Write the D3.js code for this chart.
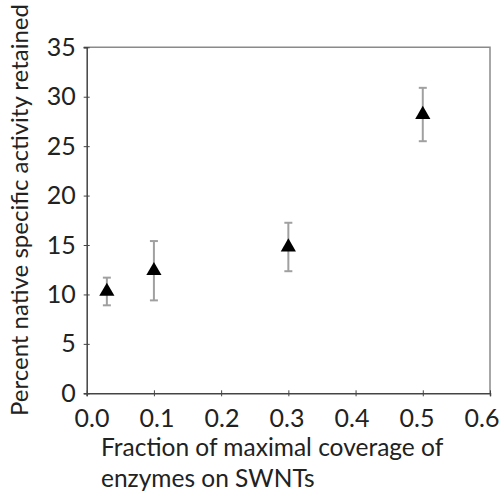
<!DOCTYPE html>
<html>
<head>
<meta charset="utf-8">
<script src="https://cdn.jsdelivr.net/npm/d3@7"></script>
<style>
  body {margin: 0; background: #fff;}
  text {font-family: Lato, sans-serif; fill: #222;}
</style>
</head>
<body>
<script>
// data
const coverage = [0.03, 0.1, 0.3, 0.5]
const activity = [10.3, 12.4, 14.8, 28.2]
const errors = [1.4, 3.0, 2.45, 2.7]
const xTicks = [0, 0.1, 0.2, 0.3, 0.4, 0.5, 0.6]
const yTicks = [0, 5, 10, 15, 20, 25, 30, 35]

const points = coverage.map((c, i) => ({x: c, y: activity[i], e: errors[i]}))

const svg = d3.select('body').append('svg')
  .attr('width', 500).attr('height', 496)

const plotLeft = 86.7, plotRight = 490, plotTop = 47.3, plotBottom = 393.3

const x = d3.scaleLinear().domain([0, 0.6]).range([plotLeft, plotRight])
const y = d3.scaleLinear().domain([0, 35]).range([plotBottom, plotTop])
// the x labels sit on a slightly narrower span than the ticks
const xLabel = d3.scaleLinear().domain([0, 0.6]).range([91.5, 481.5])

// frame on top and right
svg.append('path')
  .attr('d', `M${plotLeft - 3},${plotTop}H${plotRight}V${plotBottom}`)
  .attr('fill', 'none').attr('stroke', '#8a8a8a').attr('stroke-width', 1.5)

// y axis
const ya = svg.append('g').attr('transform', `translate(${plotLeft},0)`)
  .call(d3.axisLeft(y).tickValues(yTicks).tickSize(3).tickPadding(8))
ya.select('.domain').attr('stroke', '#444').attr('stroke-width', 1.5)
ya.selectAll('.tick line').attr('stroke', '#444').attr('x2', 3).attr('x1', -3)
ya.selectAll('.tick text').attr('font-size', 25).attr('fill', '#222')
  .attr('font-family', 'Lato, sans-serif')

// x axis
const xa = svg.append('g').attr('transform', `translate(0,${plotBottom})`)
  .call(d3.axisBottom(x).tickValues(xTicks).tickFormat(d3.format('.1f')).tickSize(3).tickPadding(13))
xa.select('.domain').attr('stroke', '#444').attr('stroke-width', 1.5)
xa.selectAll('.tick line').attr('stroke', '#444').attr('y1', -3).attr('y2', 3)
xa.selectAll('.tick text').attr('font-size', 25).attr('fill', '#222')
  .attr('font-family', 'Lato, sans-serif')
  .attr('x', d => xLabel(d) - x(d))

// titles
svg.append('text')
  .attr('transform', `translate(28,210) rotate(-90)`)
  .attr('text-anchor', 'middle').attr('font-size', 24)
  .text('Percent native specific activity retained')

svg.append('text').attr('x', 101).attr('y', 456).attr('font-size', 24.5)
  .text('Fraction of maximal coverage of')
svg.append('text').attr('x', 101).attr('y', 487).attr('font-size', 24.5)
  .text('enzymes on SWNTs')

// error bars
const eb = svg.append('g').selectAll('g').data(points).enter().append('g')
  .attr('stroke', '#a0a0a0').attr('stroke-width', 2)
eb.append('line')
  .attr('x1', d => x(d.x)).attr('x2', d => x(d.x))
  .attr('y1', d => y(d.y + d.e)).attr('y2', d => y(d.y - d.e))
eb.append('line')
  .attr('x1', d => x(d.x) - 4).attr('x2', d => x(d.x) + 4)
  .attr('y1', d => y(d.y + d.e)).attr('y2', d => y(d.y + d.e))
eb.append('line')
  .attr('x1', d => x(d.x) - 4).attr('x2', d => x(d.x) + 4)
  .attr('y1', d => y(d.y - d.e)).attr('y2', d => y(d.y - d.e))

// triangles
svg.append('g').selectAll('path').data(points).enter().append('path')
  .attr('d', d3.symbol().type(d3.symbolTriangle).size(100))
  .attr('transform', d => `translate(${x(d.x)},${y(d.y)})`)
  .attr('fill', '#000')
</script>
</body>
</html>
